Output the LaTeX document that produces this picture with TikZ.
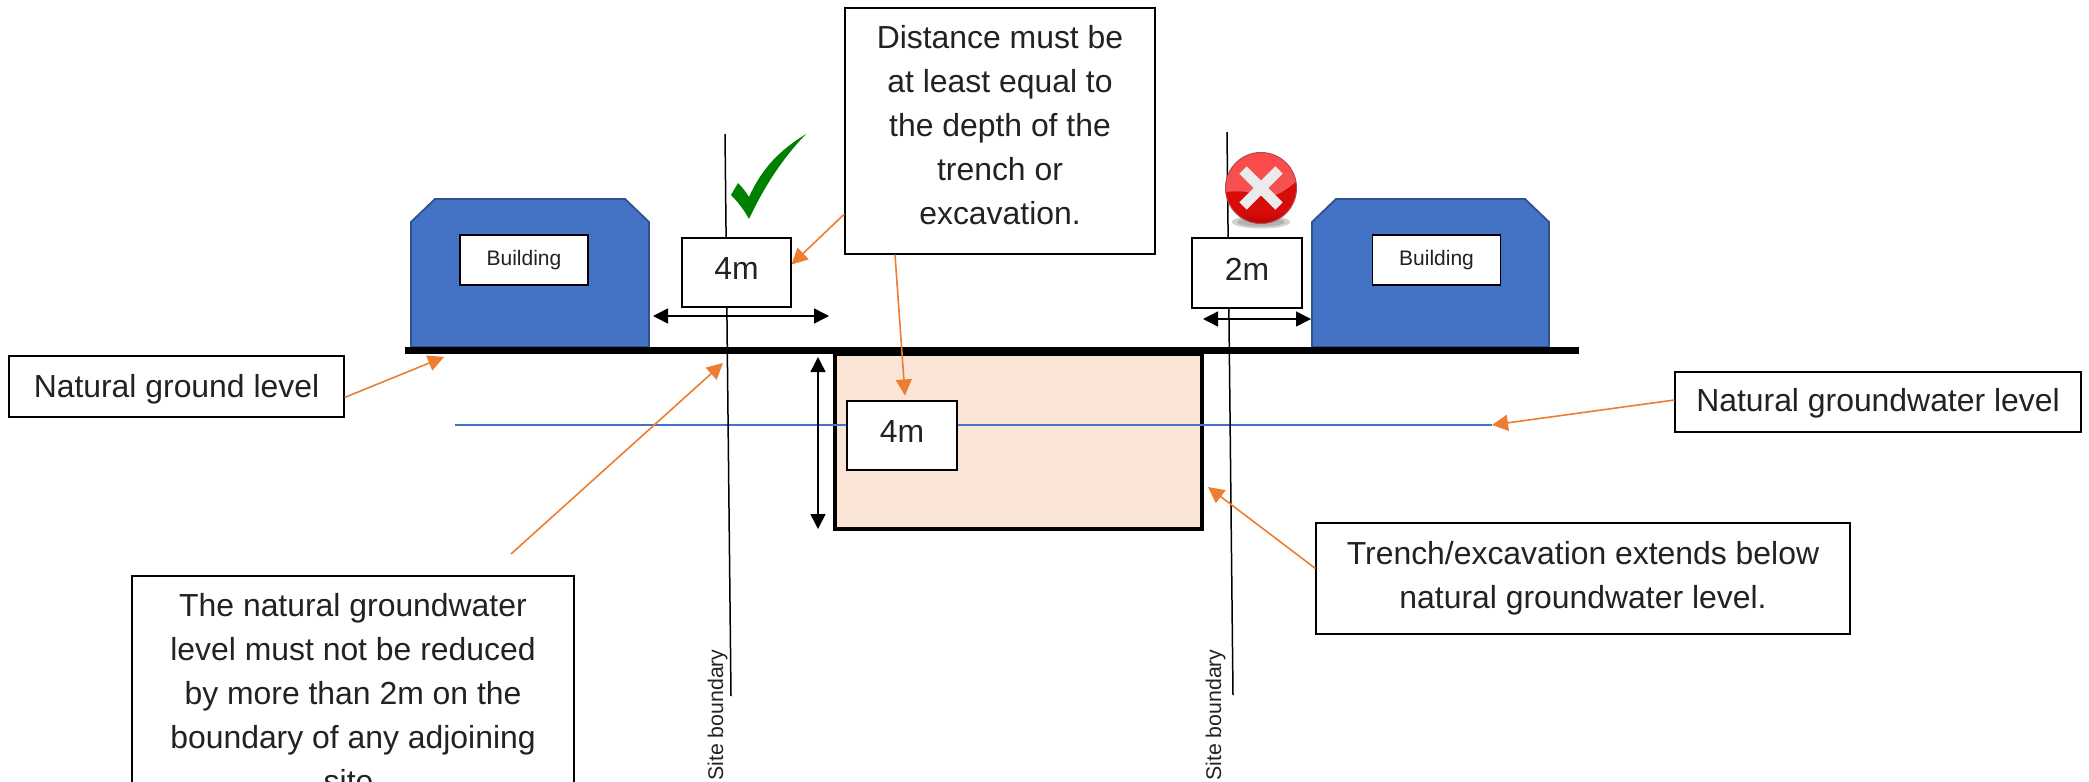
\documentclass[tikz,border=0pt]{standalone}
\usepackage{fontspec}
\setmainfont{Liberation Sans}
\usetikzlibrary{arrows.meta}
\definecolor{ink}{HTML}{222222}
\definecolor{bldg}{HTML}{4472C4}
\definecolor{bldgedge}{HTML}{2F528F}
\definecolor{org}{HTML}{ED7D31}
\definecolor{trenchfill}{HTML}{FBE5D6}
\definecolor{tick}{HTML}{008000}
\definecolor{rdark}{HTML}{D80B0B}
\definecolor{rgloss}{HTML}{F05656}
\newcommand\shiftup[2]{\raisebox{#1}[\height][\depth]{#2}}
\tikzset{
  x=1pt,y=-1pt,
  big/.style={font=\fontsize{31.9}{44}\selectfont,text=ink},
  lbl/.style={big,draw=black,line width=1.1pt,fill=white,inner sep=0pt,align=center},
  bname/.style={draw=black,line width=1.3pt,fill=white,inner sep=0pt,font=\fontsize{21}{25}\selectfont,text=ink,minimum width=128pt,minimum height=50pt},
  house/.style={fill=bldg,draw=bldgedge,line width=1.8pt,line join=miter},
  boundary/.style={draw=black,line width=1.5pt},
  ptr/.style={draw=org,line width=1.6pt,-{Triangle[length=16pt,width=16pt,fill=org]}},
  dim/.style={draw=black,line width=1.5pt,{Triangle[length=15pt,width=15pt]}-{Triangle[length=15pt,width=15pt]}},
  sitetxt/.style={rotate=90,font=\fontsize{21.3}{25}\selectfont,text=ink,inner sep=0pt,anchor=west}
}
\begin{document}
\begin{tikzpicture}
\useasboundingbox (0,0) rectangle (2089,782);
\clip (0,0) rectangle (2089,782);
% free ends
\coordinate (b1t) at (725,134);
\coordinate (b1b) at (731,696);
\coordinate (b2t) at (1227,132);
\coordinate (b2b) at (1233,695);
\coordinate (wl) at (455,425);
\coordinate (wr) at (1492,425);
\coordinate (glTip) at (444,357);
\coordinate (gwTip) at (723,363);
\coordinate (tTip) at (1208,487);
\coordinate (natStart) at (511,554);
% trench
\node[draw=black,line width=3.2pt,fill=trenchfill,inner sep=0pt,minimum width=367pt,minimum height=175pt] (trench) at (1018.4,441.5) {};
% water line
\draw[draw=bldg,line width=1.5pt] (wl) -- (wr);
% boundaries
\draw[boundary] (b1t) -- (b1b);
\draw[boundary] (b2t) -- (b2b);
% buildings
\draw[house] (411,347) -- (411,222) -- (435,199) -- (625,199) -- (649,222) -- (649,347) -- cycle;
\draw[house] (1312,347) -- (1312,222) -- (1336,199) -- (1525,199) -- (1549,222) -- (1549,347) -- cycle;
\node[bname] (bn1) at (524,260) {Building};
\node[bname] (bn2) at (1436.5,260) {Building};
% ground
\fill[black] (405,347) rectangle (1579,354);
% dims
\coordinate (d1a) at (653,316); \coordinate (d1b) at (829,316);
\coordinate (d2a) at (1203,319); \coordinate (d2b) at (1311,319);
\coordinate (d3a) at (818,357); \coordinate (d3b) at (818,529);
\draw[dim] (d1a) -- (d1b);
\draw[dim] (d2a) -- (d2b);
\draw[dim] (d3a) -- (d3b);
% labels
\node[lbl,minimum width=109pt,minimum height=69pt] (m4a) at (736.5,272.5) {\shiftup{4pt}{4m}};
\node[lbl,minimum width=110pt,minimum height=70pt] (m2) at (1247,273) {\shiftup{4pt}{2m}};
\node[lbl,minimum width=110pt,minimum height=69pt] (m4b) at (902,435.5) {\shiftup{4pt}{4m}};
\node[lbl,minimum width=310pt,minimum height=246pt] (dist) at (1000,131) {\shiftup{5.5pt}{\parbox{300pt}{\centering Distance must be\\at least equal to\\the depth of the\\trench or\\excavation.}}};
\node[lbl,minimum width=335pt,minimum height=61pt] (gl) at (176.5,386.5) {\shiftup{-2.5pt}{Natural ground level}};
\node[lbl,minimum width=406pt,minimum height=60pt] (gw) at (1878,402) {\shiftup{-1.3pt}{Natural groundwater level}};
\node[lbl,minimum width=534pt,minimum height=111pt] (tr) at (1583,578.5) {Trench/excavation extends below\\natural groundwater level.};
\node[lbl,minimum width=442pt,minimum height=235pt] (nat) at (353,693.5) {The natural groundwater\\level must not be reduced\\by more than 2m on the\\boundary of any adjoining\\site.};
% site boundary text
\node[sitetxt] (s1) at (717.5,781) {Site boundary};
\node[sitetxt] (s2) at (1215.5,781) {Site boundary};
% pointers
\draw[ptr] ([yshift=-11pt]gl.east) -- (glTip);
\draw[ptr] ([yshift=2pt]gw.west) -- (wr);
\draw[ptr] ([yshift=10pt]tr.west) -- (tTip);
\draw[ptr] (natStart) -- (gwTip);
\draw[ptr] ([yshift=-83pt]dist.west) -- ([yshift=8pt]m4a.east);
\draw[ptr] ([xshift=-105pt]dist.south) -- ([xshift=3pt,yshift=5pt]m4b.north);
% check mark
\fill[tick] (731,195) -- (738,183) .. controls (742,187) and (746,192) .. (749,197) .. controls (762,168) and (780,150) .. (806,134) .. controls (783,158) and (765,185) .. (749,219) .. controls (744,210) and (738,202) .. (731,195) -- cycle;
% cross icon
\fill[black!18] (1261,222) ellipse (29 and 6.5);
\fill[black!30] (1261,222) ellipse (24 and 4.5);
\fill[rdark] (1261,188) circle (35.5);
\begin{scope}
  \clip (1261,188) circle (35.5);
  \shade[top color=red!72!white,bottom color=rgloss] (1220,150) -- (1300,150) -- (1300,178) .. controls (1285,192) and (1272,200) .. (1258,195) .. controls (1248,191) and (1235,190) .. (1220,193) -- cycle;
  \shade[top color=rdark,bottom color=red!72!black] (1220,212) rectangle (1300,226);
\end{scope}
\draw[draw=red!55!black!70!white,line width=1pt] (1261,188) circle (35.5);
\draw[line width=10.5pt,draw=white!92!black] (1243,170) -- (1279,206);
\draw[line width=10.5pt,draw=white!92!black] (1279,170) -- (1243,206);
\end{tikzpicture}
\end{document}
